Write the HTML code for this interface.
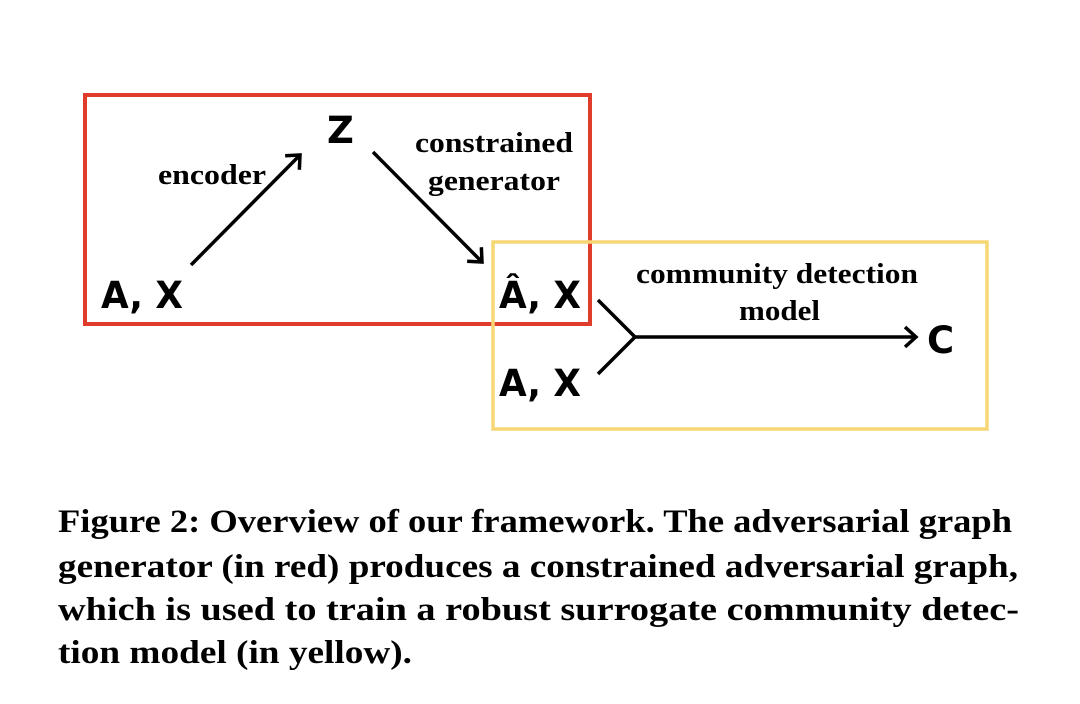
<!DOCTYPE html>
<html><head><meta charset="utf-8"><style>
html,body{margin:0;padding:0;background:#fff;}
svg{display:block;}
.n{font-family:"DejaVu Sans","Liberation Sans",sans-serif;font-weight:bold;font-size:37px;fill:#000;}
.l{font-family:"Liberation Serif",serif;font-weight:bold;font-size:28px;fill:#000;}
.c{font-family:"Liberation Serif",serif;font-weight:bold;font-size:33px;fill:#000;}
</style></head><body>
<svg width="1080" height="704" viewBox="0 0 1080 704" xmlns="http://www.w3.org/2000/svg">
<defs>
<marker id="ah" markerWidth="24" markerHeight="24" refX="12" refY="12" orient="auto" markerUnits="userSpaceOnUse">
<path d="M1,2 L12,12 L1,22" fill="none" stroke="#000" stroke-width="3.5"/>
</marker>
</defs>
<rect x="85" y="95" width="505" height="229" fill="none" stroke="#e03c2c" stroke-width="4"/>
<rect x="493" y="242" width="494" height="187" fill="none" stroke="#f6d675" stroke-width="3.5"/>
<text class="n" x="327" y="143">Z</text>
<text class="n" x="101" y="308" textLength="82" lengthAdjust="spacingAndGlyphs">A, X</text>
<text class="n" x="499" y="308" textLength="82" lengthAdjust="spacingAndGlyphs">Â, X</text>
<text class="n" x="499" y="396" textLength="82" lengthAdjust="spacingAndGlyphs">A, X</text>
<text class="n" x="927" y="353">C</text>
<text class="l" x="158" y="184" textLength="108" lengthAdjust="spacingAndGlyphs">encoder</text>
<text class="l" x="415" y="152" textLength="158" lengthAdjust="spacingAndGlyphs">constrained</text>
<text class="l" x="428" y="190" textLength="132" lengthAdjust="spacingAndGlyphs">generator</text>
<text class="l" x="636" y="283" textLength="282" lengthAdjust="spacingAndGlyphs">community detection</text>
<text class="l" x="739" y="320" textLength="81" lengthAdjust="spacingAndGlyphs">model</text>
<line x1="191" y1="265" x2="300" y2="155" stroke="#000" stroke-width="3.5" marker-end="url(#ah)"/>
<line x1="373" y1="152" x2="482" y2="262" stroke="#000" stroke-width="3.5" marker-end="url(#ah)"/>
<polyline points="598,300 635,337 598,374" fill="none" stroke="#000" stroke-width="3.5"/>
<line x1="635" y1="337" x2="916" y2="337" stroke="#000" stroke-width="3.5" marker-end="url(#ah)"/>
<text class="c" x="58" y="532" textLength="954" lengthAdjust="spacingAndGlyphs">Figure 2: Overview of our framework. The adversarial graph</text>
<text class="c" x="58" y="577" textLength="960" lengthAdjust="spacingAndGlyphs">generator (in red) produces a constrained adversarial graph,</text>
<text class="c" x="58" y="620" textLength="961" lengthAdjust="spacingAndGlyphs">which is used to train a robust surrogate community detec-</text>
<text class="c" x="58" y="663" textLength="354" lengthAdjust="spacingAndGlyphs">tion model (in yellow).</text>
</svg>
</body></html>
